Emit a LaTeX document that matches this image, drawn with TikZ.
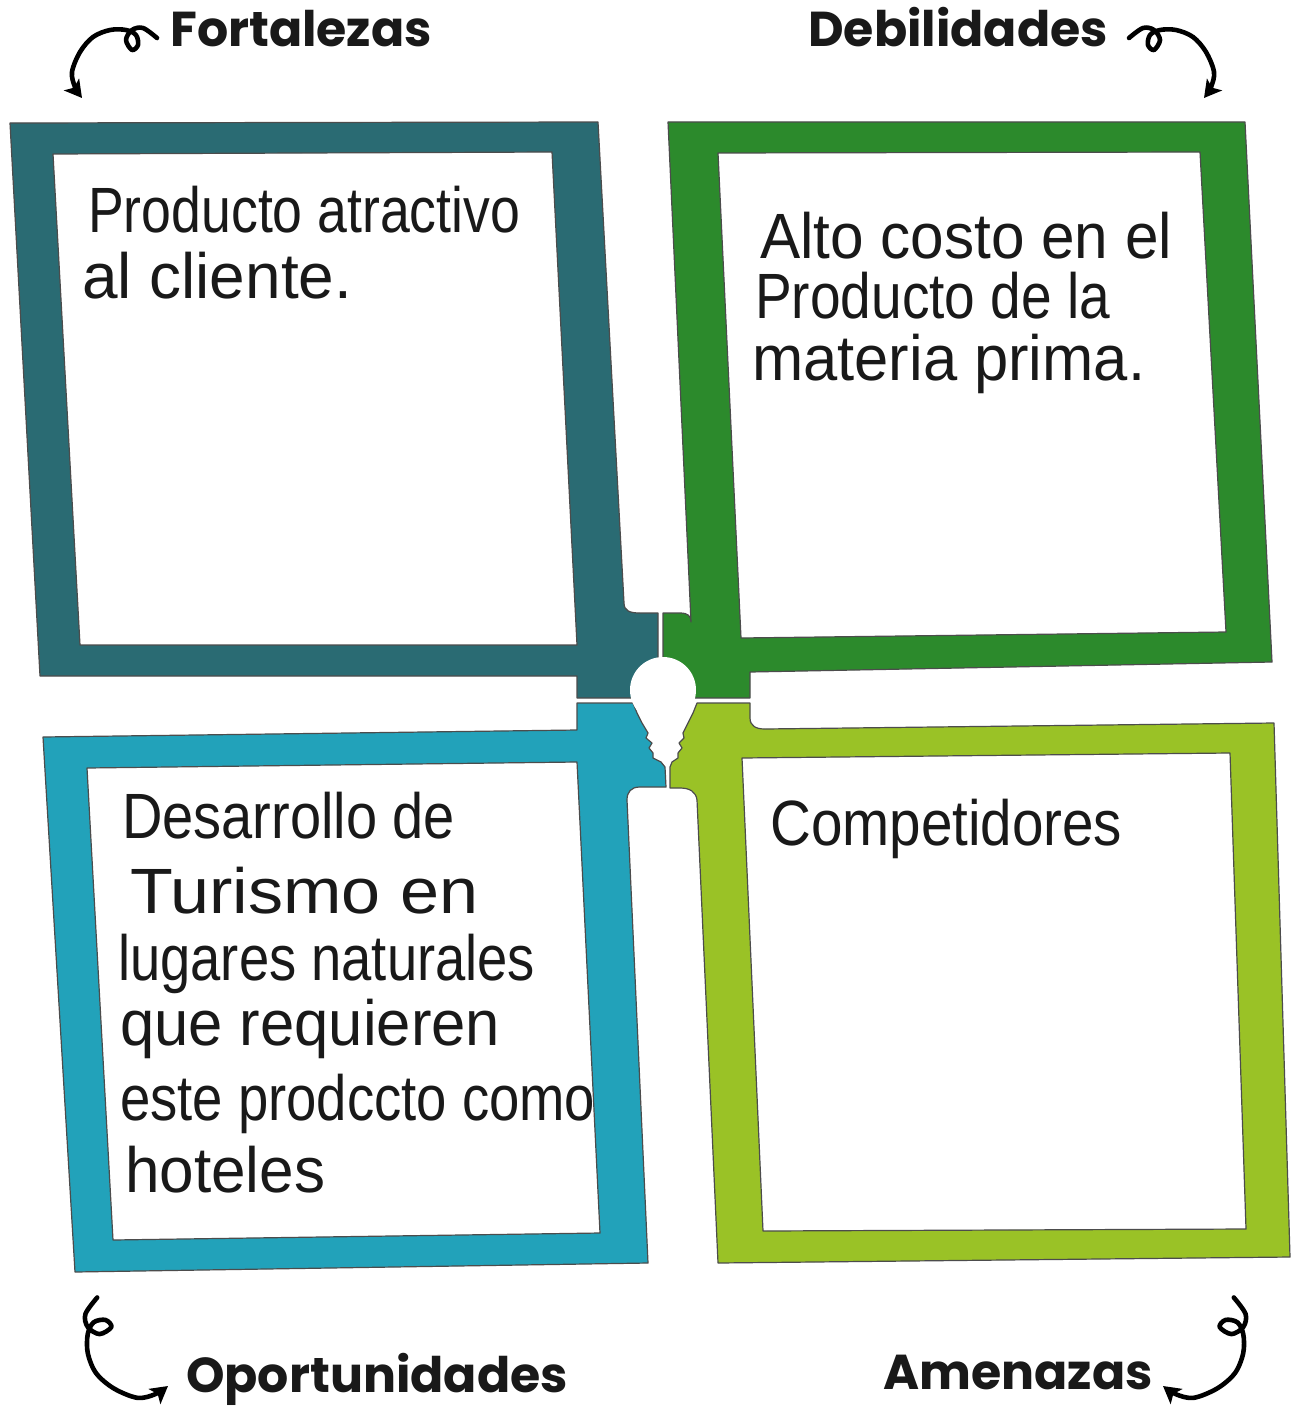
\documentclass[tikz,border=0pt]{standalone}
\usepackage{fontspec}
\setmainfont{Liberation Sans}
\newfontfamily\labelfont{Poppins}
\usetikzlibrary{arrows.meta}
\definecolor{cTL}{HTML}{2A6B73}
\definecolor{cTR}{HTML}{2C8A2C}
\definecolor{cBL}{HTML}{22A2BA}
\definecolor{cBR}{HTML}{9AC226}
\newcommand\hwline[2]{\resizebox{#1pt}{\height}{#2}}
\begin{document}
\begin{tikzpicture}[x=1pt,y=-1pt,
  piece/.style={even odd rule, draw=black!70, line width=1.2pt, line join=round},
  hand/.style={anchor=base west, inner sep=0pt, text=black!90, font=\fontsize{64}{64}\selectfont},
  lbl/.style={anchor=base west, inner sep=0pt, text=black!90, font=\labelfont\bfseries\fontsize{49}{49}\selectfont},
  curlarrow/.style={line width=4.6pt, line cap=round, line join=round, -{Stealth[length=17pt,width=19pt,inset=4pt]}},
  curly/.pic={\draw[curlarrow] plot[smooth,tension=0.55] coordinates
     {(75,-60) (61,-70) (50,-68) (44,-58) (50,-48) (56,-53) (54,-63) (44,-68) (28,-68) (11,-61) (-2,-46) (-10,-26) (-7,-11) (0,0)};}
]
\useasboundingbox[fill=white] (0,0) rectangle (1292,1407);

% Fortalezas piece
\path[piece, fill=cTL]
  (10,123) -- (598,122) -- (624,603) .. controls (624,611) and (630,613) .. (640,613) -- (658,613)
  -- (658,698) -- (577,698) -- (577,676) -- (40,676) -- cycle
  (53,154) -- (552,152) -- (577,645) -- (80,645) -- cycle;

% Debilidades piece
\path[piece, fill=cTR]
  (668,122) -- (1245,122) -- (1272,662) -- (750,672) -- (750,698) -- (663,698) -- (663,613)
  -- (680,613) .. controls (688,613) and (691,616) .. (691,622) -- cycle
  (718,153) -- (1200,152) -- (1226,632) -- (741,638) -- cycle;

% Oportunidades piece
\path[piece, fill=cBL]
  (43,737) -- (577,730) -- (577,703) -- (633,703)
  -- (637,713) -- (642,723) -- (648,733) -- (646,738) -- (652,743) -- (649,748)
  -- (653,753) -- (653,758) -- (661,762) -- (665,767) -- (666,787)
  -- (640,787) .. controls (631,787) and (627,792) .. (627,800)
  -- (648,1263) -- (75,1272) -- cycle
  (87,768) -- (577,762) -- (600,1233) -- (113,1240) -- cycle;

% Amenazas piece
\path[piece, fill=cBR]
  (697,703) -- (750,703) -- (750,718) .. controls (750,726) and (756,729) .. (765,729)
  -- (1274,723) -- (1290,1257) -- (718,1263) -- (697,800)
  .. controls (696,792) and (690,788) .. (680,788) -- (670,788)
  -- (670,767) -- (672,762) -- (678,758) -- (678,753) -- (682,748) -- (679,743)
  -- (684,738) -- (683,733) -- (688,723) -- (693,713) -- cycle
  (742,758) -- (1230,753) -- (1246,1229) -- (763,1231) -- cycle;

% light bulb
\fill[white] (663,690) circle[radius=33];

% section titles
\node[lbl] (lF) at (170,47) {Fortalezas};
\node[lbl] (lD) at (808,47) {Debilidades};
\node[lbl] (lO) at (186,1392) {Oportunidades};
\node[lbl] (lA) at (883,1389) {Amenazas};

% curly arrows
\pic at (82,98) {curly};
\pic[xscale=-1] at (1204,98) {curly};
\pic[rotate=90,scale=1.18] at (168,1386) {curly};
\pic[xscale=-1,rotate=90,scale=1.18] at (1163,1386) {curly};

% handwritten contents
\node[hand] (f1) at (88,232) {\hwline{432}{Producto atractivo}};
\node[hand] (f2) at (82,298) {\hwline{270}{al cliente.}};

\node[hand] (d1) at (760,258) {\hwline{412}{Alto costo en el}};
\node[hand] (d2) at (755,318) {\hwline{355}{Producto de la}};
\node[hand] (d3) at (752,380) {\hwline{393}{materia prima.}};

\node[hand] (o1) at (122,838) {\hwline{333}{Desarrollo de}};
\node[hand] (o2) at (130,913) {\hwline{348}{Turismo en}};
\node[hand] (o3) at (118,980) {\hwline{417}{lugares naturales}};
\node[hand] (o4) at (120,1045) {\hwline{380}{que requieren}};
\node[hand] (o5) at (120,1120) {\hwline{475}{este prodccto como}};
\node[hand] (o6) at (125,1192) {\hwline{200}{hoteles}};

\node[hand] (a1) at (770,845) {\hwline{352}{Competidores}};
\end{tikzpicture}
\end{document}
